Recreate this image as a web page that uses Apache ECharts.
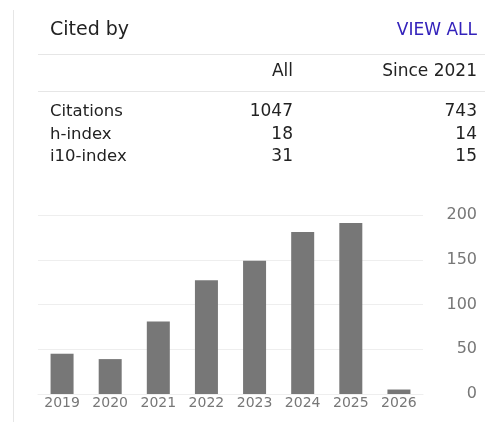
<!DOCTYPE html>
<html>
<head>
<meta charset="utf-8">
<script src="https://cdn.jsdelivr.net/npm/echarts@6/dist/echarts.min.js"></script>
<title>Cited by</title>
<style>
  html, body { margin: 0; padding: 0; background: #fff; }
  #main { width: 485px; height: 422px; }
</style>
</head>
<body>
<div id="main"></div>
<script type="text/javascript">
// citations per year
var years = ['2019', '2020', '2021', '2022', '2023', '2024', '2025', '2026'];
var counts = [45, 39, 81, 127, 149, 181, 191, 5];

// summary table
var colHeads = ['All', 'Since 2021'];
var rowNames = ['Citations', 'h-index', 'i10-index'];
var allVals = ['1047', '18', '31'];
var sinceVals = ['743', '14', '15'];

var font = 'DejaVu Sans';
var myChart = echarts.init(document.getElementById('main'));

var graphics = [
  // left border
  { type: 'line', shape: { x1: 13.5, y1: 10, x2: 13.5, y2: 422 }, style: { stroke: '#e6e6e6', lineWidth: 1 } },
  { type: 'text', x: 50, y: 30, style: { text: 'Cited by', fill: '#222', font: '19px ' + font, verticalAlign: 'middle' } },
  { type: 'text', x: 477, y: 31, style: { text: 'VIEW ALL', fill: '#3322bb', font: '17px ' + font, align: 'right', verticalAlign: 'middle' } },
  { type: 'line', shape: { x1: 38, y1: 54.5, x2: 485, y2: 54.5 }, style: { stroke: '#e6e6e6', lineWidth: 1 } },
  { type: 'line', shape: { x1: 38, y1: 91.5, x2: 485, y2: 91.5 }, style: { stroke: '#e6e6e6', lineWidth: 1 } },
  { type: 'text', x: 293, y: 72, style: { text: colHeads[0], fill: '#222', font: '17px ' + font, align: 'right', verticalAlign: 'middle' } },
  { type: 'text', x: 477, y: 72, style: { text: colHeads[1], fill: '#222', font: '17px ' + font, align: 'right', verticalAlign: 'middle' } }
];
var rowY = [111.5, 134.5, 156.5];
rowNames.forEach(function (name, i) {
  graphics.push({ type: 'text', x: 50, y: rowY[i], style: { text: name, fill: '#222', font: '16.5px ' + font, verticalAlign: 'middle' } });
  graphics.push({ type: 'text', x: 293, y: rowY[i], style: { text: allVals[i], fill: '#222', font: '17px ' + font, align: 'right', verticalAlign: 'middle' } });
  graphics.push({ type: 'text', x: 477, y: rowY[i], style: { text: sinceVals[i], fill: '#222', font: '17px ' + font, align: 'right', verticalAlign: 'middle' } });
});

var option = {
  animation: false,
  backgroundColor: '#fff',
  graphic: graphics,
  grid: { left: 38, right: 62, top: 215, bottom: 28, containLabel: false },
  xAxis: {
    type: 'category',
    data: years,
    axisTick: { show: false },
    axisLine: { show: true, lineStyle: { color: '#eeeeee' } },
    axisLabel: { color: '#777', fontFamily: font, fontSize: 14, margin: 2, interval: 0 }
  },
  yAxis: {
    type: 'value',
    position: 'right',
    min: 0,
    max: 200,
    interval: 50,
    axisLine: { show: false },
    axisTick: { show: false },
    splitLine: { lineStyle: { color: '#eeeeee' } },
    axisLabel: { color: '#777', fontFamily: font, fontSize: 16, align: 'right', margin: 54 }
  },
  series: [{
    type: 'bar',
    data: counts,
    barWidth: 23,
    itemStyle: { color: '#777777' }
  }]
};

myChart.setOption(option);
</script>
</body>
</html>
